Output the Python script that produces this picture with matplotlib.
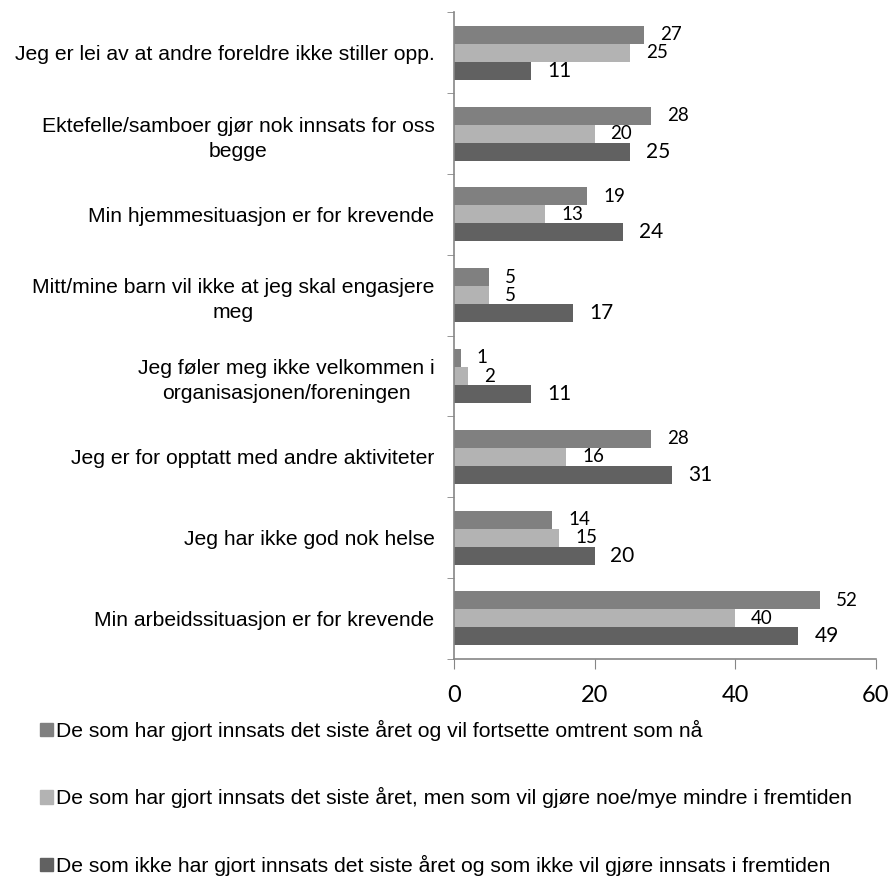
import numpy as np
import matplotlib.pyplot as plt
from matplotlib.patches import Patch

# kategorier (nederst først)
kategorier = [
    'Min arbeidssituasjon er for krevende',
    'Jeg har ikke god nok helse',
    'Jeg er for opptatt med andre aktiviteter',
    'Jeg føler meg ikke velkommen i\norganisasjonen/foreningen',
    'Mitt/mine barn vil ikke at jeg skal engasjere\nmeg',
    'Min hjemmesituasjon er for krevende',
    'Ektefelle/samboer gjør nok innsats for oss\nbegge',
    'Jeg er lei av at andre foreldre ikke stiller opp.',
]

fortsette = [52, 14, 28, 1, 5, 19, 28, 27]
mindre = [40, 15, 16, 2, 5, 13, 20, 25]
ikke_innsats = [49, 20, 31, 11, 17, 24, 25, 11]

serie_navn = [
    'De som har gjort innsats det siste året og vil fortsette omtrent som nå',
    'De som har gjort innsats det siste året, men som vil gjøre noe/mye mindre i fremtiden',
    'De som ikke har gjort innsats det siste året og som ikke vil gjøre innsats i fremtiden',
]
farger = ['#808080', '#b3b3b3', '#616161']
x_ticks = [0, 20, 40, 60]

fig = plt.figure(figsize=(8.9, 8.82), dpi=100)
ax = fig.add_axes([0.510, 0.253, 0.474, 0.733])

y = np.arange(len(kategorier))
h = 0.223
serier = [fortsette, mindre, ikke_innsats]
forskyv = [h, 0, -h]
label_str = [13.5, 13.5, 15]

for verdier, dy, farge, fs in zip(serier, forskyv, farger, label_str):
    bars = ax.barh(y + dy, verdier, height=h, color=farge)
    for b, v in zip(bars, verdier):
        ax.annotate(str(v), (b.get_width(), b.get_y() + b.get_height() / 2),
                    xytext=(11.5, 0), textcoords='offset points',
                    ha='left', va='center', fontsize=fs, family='Lato')

ax.set_xlim(0, 60)
ax.set_ylim(-0.5, len(kategorier) - 0.5)
ax.set_xticks(x_ticks)
ax.set_xticklabels([str(t) for t in x_ticks], fontsize=17, family='Lato')
ax.set_yticks(y)
ax.set_yticklabels(kategorier, fontsize=15.2, family='Liberation Sans')
for t in ax.get_yticklabels():
    t.set_multialignment('center')
    t.set_linespacing(1.4)
ax.set_yticks(np.arange(-0.5, len(kategorier)), minor=True)
ax.tick_params(axis='y', which='major', length=0, pad=14)
ax.tick_params(axis='y', which='minor', length=5, color='#868686', direction='out')
ax.tick_params(axis='x', length=7, color='#868686', direction='out', pad=12)

for s in ['top', 'right']:
    ax.spines[s].set_visible(False)
for s in ['left', 'bottom']:
    ax.spines[s].set_color('#868686')
    ax.spines[s].set_linewidth(1.2)

handles = [Patch(color=f) for f in farger]
fig.legend(handles, serie_navn, loc='upper left', bbox_to_anchor=(0.045, 0.184),
           frameon=False, prop={'family': 'Liberation Sans', 'size': 15.2},
           handlelength=0.6, handleheight=0.6, handletextpad=0.15, labelspacing=2.2,
           borderaxespad=0, borderpad=0)

fig.savefig('out.png', dpi=100)
